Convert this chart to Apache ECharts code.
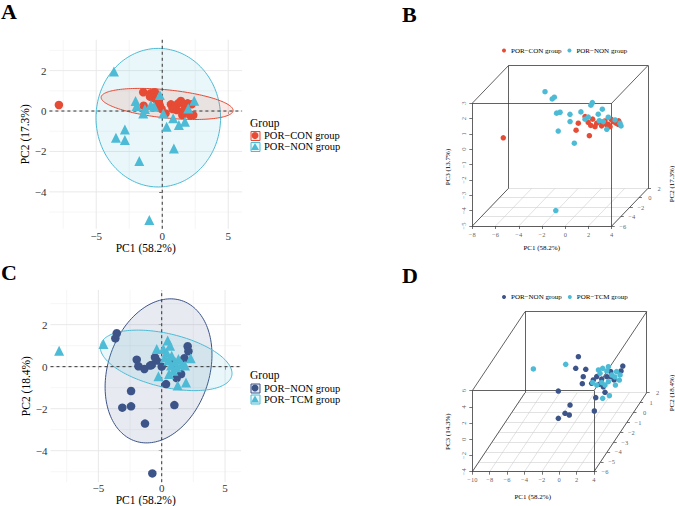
<!DOCTYPE html>
<html><head><meta charset="utf-8">
<script src="https://cdn.jsdelivr.net/npm/echarts@6/dist/echarts.min.js"></script>
<style>html,body{margin:0;padding:0;background:#fff}#c{width:675px;height:506px}</style>
</head><body><div id="c"></div>
<script>
// ---------------- DATA ----------------
// Panel A: PCA (PC1, PC2), POR-CON vs POR-NON
const aGroups = ['POR\u2212CON group', 'POR\u2212NON group'];
const aConPC1 = [-7.83,-1.44,-1.41,-0.86,-0.56,-0.76,-0.93,-0.43,-0.25,-0.18,-0.05,0.25,0.66,0.96,1.21,1.41,1.09,1.52,1.72,1.92,2.22,2.10,2.35,1.59,0.78,-0.30];
const aConPC2 = [0.30,0.93,0.26,0.88,0.93,0.66,0.71,0.55,0.38,0.26,0.10,-0.12,0.33,0.21,0.38,0.50,0.05,-0.20,0.26,0.38,0.33,-0.20,-0.20,0.00,0.10,0.46];
const aNonPC1 = [-3.66,-2.02,-1.94,-1.44,-0.86,-0.61,-0.18,0.83,0.33,1.26,1.72,2.42,1.97,-2.83,-3.51,-2.83,0.88,-1.74,-0.98,0.08,-1.31];
const aNonPC2 = [1.95,0.50,0.25,-0.12,0.30,0.21,0.79,-0.36,-0.78,-0.69,-0.53,0.51,0.13,-0.91,-1.32,-1.44,-1.85,-2.48,-5.40,-0.12,0.10];
// confidence ellipses: [cx, cy, ux, uy, vx, vy]
const aConEllipse = [0.37,0.35,5.0,-0.32,0,0.70];
const aNonEllipse = [-0.30,-0.33,4.72,0,0,3.43];

// Panel C: PCA (PC1, PC2), POR-NON vs POR-TCM
const cGroups = ['POR\u2212NON group', 'POR\u2212TCM group'];
const cNonPC1 = [-3.55,-3.66,-1.97,-1.84,-1.37,-0.92,-0.79,-0.39,0.00,-0.53,2.05,2.11,1.79,1.53,1.18,0.34,-2.42,-3.11,-2.42,1.00,-1.32,-0.74,0.92];
const cNonPC2 = [1.59,1.35,0.33,0.02,-0.11,0.05,0.08,0.29,0.00,0.44,0.97,0.73,0.40,-0.35,-0.54,-0.83,-1.16,-1.95,-1.89,-1.83,-2.71,-5.08,0.13];
const cTcmPC1 = [-8.10,-4.60,0.47,-0.39,0.13,0.66,0.39,0.79,0.53,1.05,1.32,1.58,1.84,2.29,-0.26,0.58,0.92,1.26,1.92,0.26,1.18,0.74];
const cTcmPC2 = [0.76,1.08,1.24,0.84,0.84,1.00,0.68,0.52,0.29,0.24,0.37,0.13,0.05,0.40,-0.46,-0.35,-0.19,-0.90,-0.75,0.44,-0.03,0.05];
const cNonEllipse = [-0.25,-0.20,4.2,0.45,0.4,3.4];
const cTcmEllipse = [0.35,0.30,5.2,-0.62,0,1.3];

// Panel B: 3D PCA
const bConPC1 = [-7.79,-1.57,-1.51,-0.22,-1.00,-0.62,-0.20,0.22,0.52,1.00,1.34,1.59,1.64,1.93,2.29,0.18,0.66,1.03,2.13,-0.42,1.42];
const bConPC2 = [0.30,0.90,0.26,-0.12,0.93,0.66,0.55,0.38,0.33,0.21,0.05,-0.20,0.38,0.26,-0.20,0.10,0.33,0.46,0.33,0.71,0.50];
const bConPC3 = [-1.19,-0.42,-0.68,-0.92,0.00,-0.30,-0.05,-0.26,-0.14,-0.06,-0.23,-0.31,-0.16,-0.22,-0.16,-0.40,-0.42,-0.38,-0.09,-0.51,-0.05];
const bNonPC1 = [-3.66,-2.95,-2.72,-0.09,-0.25,-2.73,-1.82,-2.13,-1.30,-1.88,-2.43,-0.84,-1.05,0.38,0.65,-0.22,-0.72,0.89,1.50,2.17,2.41,2.15,1.05,0.98];
const bNonPC2 = [-1.08,-1.32,-1.44,0.21,0.30,-0.91,-2.48,0.50,0.79,-0.12,-1.32,-1.85,-5.40,0.30,0.51,-0.36,0.21,-0.78,-0.69,0.51,0.13,-0.53,0.79,-0.12];
const bNonPC3 = [2.24,1.84,1.99,1.13,0.94,0.79,1.33,0.28,0.35,0.00,-0.25,-0.88,-4.18,0.35,0.61,0.36,0.05,0.26,-0.33,-0.30,-0.36,0.23,0.00,0.00];
const bTicksPC1 = [-8,-6,-4,-2,0,2,4];
const bTicksPC2 = [-6,-4,-2,0,2];
const bTicksPC3 = [-5,-4,-3,-2,-1,0,1,2,3];

// Panel D: 3D PCA
const dNonPC1 = [-3.55,-2.90,-1.51,-1.70,-1.01,-0.80,-1.25,-2.40,-1.96,-3.17,1.04,0.88,1.35,2.03,2.01,1.08,1.19,-0.27,-0.69,0.24,0.93,0.69,1.46,-1.03,1.05];
const dNonPC2 = [1.59,0.33,0.02,-0.11,-1.16,-5.08,-2.71,-1.95,-1.89,-1.95,-1.83,-1.83,-0.83,0.97,0.73,0.40,-0.35,0.05,0.08,0.13,-0.54,-0.83,0.40,0.29,0.44];
const dNonPC3 = [0.95,1.05,1.30,0.55,0.96,4.84,0.22,-1.73,-2.01,-2.35,0.06,-1.59,-0.50,0.55,0.23,0.55,0.84,0.36,-0.09,-0.03,-0.17,0.49,-0.48,-0.76,-0.12];
const dTcmPC1 = [-8.10,-4.62,-0.49,0.47,1.10,2.15,1.75,-0.49,1.25,-0.74,0.04,1.79,1.13,1.29,2.33,1.07,0.16,1.94,-0.55,0.70];
const dTcmPC2 = [0.76,1.08,1.24,0.84,0.52,0.40,0.13,0.84,-0.19,0.05,-0.35,-0.75,-0.90,1.00,0.05,-0.46,0.24,-0.03,0.68,0.29];
const dTcmPC3 = [0.44,0.63,-0.06,0.62,-0.01,0.14,0.23,-0.19,0.03,-0.38,-0.19,-1.02,-1.16,-0.18,-0.06,-0.05,-0.61,-0.58,0.42,0.76];
const dTicksPC1 = [-10,-8,-6,-4,-2,0,2,4];
const dTicksPC2 = [-6,-5,-4,-3,-2,-1,0,1,2];
const dTicksPC3 = [-4,-2,0,2,4,6];

// 2D tick values
const xTicks2D = [-5,0,5];
const yTicks2D = [-4,-2,0,2];
const xMinor2D = [-7.5,-2.5,2.5];
const yMinor2D = [-5,-3,-1,1,3];

// ---------------- STYLE / LAYOUT ----------------
const SERIF = "'Liberation Serif','DejaVu Serif','Times New Roman',serif";
const RED = '#E64B35', CYAN = '#4DBBD5', NAVY = '#3C5488';
function rgba(hex, a){const n=parseInt(hex.slice(1),16);return 'rgba('+(n>>16)+','+((n>>8)&255)+','+(n&255)+','+a+')';}
const minus = v => String(v).replace('-', '\u2212');
const pairs = (a,b) => a.map((v,i)=>[v,b[i]]);

const series = [];
const grids = [], xAxes = [], yAxes = [];

function add2D(idx, cfg) {
  grids.push(Object.assign({containLabel:false, outerBoundsMode:'none'}, cfg.grid));
  xAxes.push({gridIndex:idx, type:'value', min:cfg.x[0], max:cfg.x[1],
    axisLine:{show:false}, splitLine:{show:false},
    axisTick:{show:true, length:3, customValues:xTicks2D, lineStyle:{color:'#333', width:1}},
    axisLabel:{customValues:xTicks2D, formatter:minus, margin:cfg.xMargin, fontFamily:SERIF, fontSize:11, color:'#333'},
    name:'PC1 (58.2%)', nameLocation:'middle', nameGap:cfg.xGap,
    nameTextStyle:{fontFamily:SERIF, fontSize:11.5, color:'#000'}});
  yAxes.push({gridIndex:idx, type:'value', min:cfg.y[0], max:cfg.y[1],
    axisLine:{show:false}, splitLine:{show:false},
    axisTick:{show:true, length:3, customValues:yTicks2D, lineStyle:{color:'#333', width:1}},
    axisLabel:{customValues:yTicks2D, formatter:minus, margin:3, fontFamily:SERIF, fontSize:11, color:'#333'},
    name:cfg.yName, nameLocation:'middle', nameGap:cfg.yGap, nameRotate:90,
    nameTextStyle:{fontFamily:SERIF, fontSize:11.5, color:'#000'}});
  const lineItems = xMinor2D.map(v=>[0,v,0]).concat(yMinor2D.map(v=>[1,v,0]),
                    xTicks2D.map(v=>[0,v,1]), yTicks2D.map(v=>[1,v,1]));
  const lineRender = (dash, colorMaj, colorMin, wMaj, wMin) => (params, api) => {
    const o = api.value(0), v = api.value(1), maj = api.value(2);
    const p1 = o === 0 ? api.coord([v, cfg.y[0]]) : api.coord([cfg.x[0], v]);
    const p2 = o === 0 ? api.coord([v, cfg.y[1]]) : api.coord([cfg.x[1], v]);
    return {type:'line', shape:{x1:p1[0],y1:p1[1],x2:p2[0],y2:p2[1]},
      style:{stroke: maj ? colorMaj : colorMin, lineWidth: maj ? wMaj : wMin, lineDash: dash}};
  };
  series.push({type:'custom', xAxisIndex:idx, yAxisIndex:idx, silent:true, z:1,
    data: lineItems, renderItem: lineRender(null, '#e6e6e6', '#f0f0f0', 0.9, 0.6)});
  cfg.ellipses.forEach(e => {
    series.push({type:'custom', xAxisIndex:idx, yAxisIndex:idx, silent:true, z:2,
      data:[e.p], renderItem:(params, api) => {
        const p = e.p, pts = [];
        for (let i = 0; i <= 160; i++) {
          const t = 2*Math.PI*i/160;
          pts.push(api.coord([p[0]+p[2]*Math.cos(t)+p[4]*Math.sin(t), p[1]+p[3]*Math.cos(t)+p[5]*Math.sin(t)]));
        }
        return {type:'polygon', shape:{points:pts}, style:{fill:rgba(e.color,0.12), stroke:e.color, lineWidth:1}};
      }});
  });
  series.push({type:'custom', xAxisIndex:idx, yAxisIndex:idx, silent:true, z:3,
    data:[[0,0,1],[1,0,1]], renderItem: lineRender([3,3], '#333', '#333', 1, 1)});
  cfg.points.forEach(s => {
    series.push({type:'scatter', name:s.name, xAxisIndex:idx, yAxisIndex:idx, z:4,
      symbol:s.symbol, symbolSize:s.size, itemStyle:{color:s.color, opacity:1},
      data: pairs(s.x, s.y)});
  });
}

function add3D(idx, c) {
  const [x0,x1] = c.x, [y0,y1] = c.y, [z0,z1] = c.z;
  const P = (a,b,d) => [a + (b - y0)*c.kx, d + (b - y0)*c.kz];
  const X1 = x1 + (y1 - y0)*c.kx, Z1 = z1 + (y1 - y0)*c.kz;
  grids.push(Object.assign({containLabel:false, outerBoundsMode:'none'}, c.grid));
  xAxes.push({gridIndex:idx, type:'value', min:x0, max:X1, show:false});
  yAxes.push({gridIndex:idx, type:'value', min:z0, max:Z1, show:false});
  const ppx = c.grid.width/(X1 - x0), ppz = c.grid.height/(Z1 - z0);
  const shift = (p, dx, dy) => [p[0] + dx/ppx, p[1] - dy/ppz];   // pixel shift -> data units
  const box = [
    [P(x0,y0,z0),P(x1,y0,z0)],[P(x1,y0,z0),P(x1,y0,z1)],[P(x1,y0,z1),P(x0,y0,z1)],[P(x0,y0,z1),P(x0,y0,z0)],
    [P(x0,y1,z1),P(x1,y1,z1)],[P(x0,y1,z0),P(x0,y1,z1)],[P(x1,y1,z0),P(x1,y1,z1)],
    [P(x0,y0,z1),P(x0,y1,z1)],[P(x1,y0,z1),P(x1,y1,z1)],
    [P(x0,y0,z0),P(x0,y1,z0)],[P(x1,y0,z0),P(x1,y1,z0)]
  ];
  const floor = c.xt.map(v=>[P(v,y0,z0),P(v,y1,z0)]).concat(c.yt.map(v=>[P(x0,v,z0),P(x1,v,z0)]));
  const tks = c.xt.map(v=>{const p=P(v,y0,z0);return [p,shift(p,0,3)];})
    .concat(c.zt.map(v=>{const p=P(x0,y0,v);return [p,shift(p,-3,0)];}))
    .concat(c.yt.map(v=>{const p=P(x1,v,z0);return [p,shift(p,3,0)];}));
  const linesS = (segs, color, w, z) => ({type:'lines', coordinateSystem:'cartesian2d', xAxisIndex:idx, yAxisIndex:idx,
    silent:true, z, polyline:false, effect:{show:false}, clip:false,
    lineStyle:{color, width:w, opacity:1, curveness:0}, data: segs.map(s=>({coords:s}))});
  series.push(linesS(floor, '#cfcfcf', 0.6, 1));
  series.push(linesS(box, '#3a3a3a', 0.8, 2));
  series.push(linesS(tks, '#3a3a3a', 0.7, 2));
  const lab = (items, rotate) => ({type:'scatter', xAxisIndex:idx, yAxisIndex:idx, silent:true, z:5, clip:false,
    symbolSize:1, itemStyle:{color:'rgba(0,0,0,0)'},
    data: items, label:{show:true, position:'inside', rotate, formatter:'{b}',
      fontFamily:SERIF, fontSize:6.5, color:'#333'}, labelLayout:{hideOverlap:false}});
  series.push(lab(c.xt.map(v=>({value:shift(P(v,y0,z0),0,8), name:minus(v)})), 0));
  series.push(lab(c.zt.map(v=>({value:shift(P(x0,y0,v),-9,0), name:minus(v)})), 90));
  series.push(lab(c.yt.map(v=>({value:shift(P(x1,v,z0),11,0), name:minus(v)})), 0));
  c.points.forEach(s => {
    series.push({type:'scatter', name:s.name, xAxisIndex:idx, yAxisIndex:idx, z:4,
      symbol:'circle', symbolSize:5.5, itemStyle:{color:s.color, opacity:1},
      data: s.p1.map((v,i)=>P(v, s.p2[i], s.p3[i]))});
  });
}

add2D(0, {grid:{left:49.4, top:39.7, width:192.7, height:189.1}, x:[-8.55,6.05], y:[-5.83,3.53],
  yName:'PC2 (17.3%)', xGap:10, yGap:9, xMargin:1.5,
  ellipses:[{p:aNonEllipse, color:CYAN},{p:aConEllipse, color:RED}],
  points:[{name:aGroups[0], x:aConPC1, y:aConPC2, color:RED, symbol:'circle', size:8.5},
          {name:aGroups[1], x:aNonPC1, y:aNonPC2, color:CYAN, symbol:'triangle', size:10}]});
add2D(1, {grid:{left:50.5, top:290, width:190.5, height:192.2}, x:[-8.78,6.26], y:[-5.5,3.65],
  yName:'PC2 (18.4%)', xGap:3, yGap:8, xMargin:0,
  ellipses:[{p:cNonEllipse, color:NAVY},{p:cTcmEllipse, color:CYAN}],
  points:[{name:cGroups[0], x:cNonPC1, y:cNonPC2, color:NAVY, symbol:'circle', size:8.5},
          {name:cGroups[1], x:cTcmPC1, y:cTcmPC2, color:CYAN, symbol:'triangle', size:10}]});
add3D(2, {grid:{left:472.3, top:65.5, width:175.7, height:160.5}, x:[-8,4], y:[-6,2], z:[-5,3], kx:0.39, kz:0.307,
  xt:bTicksPC1, yt:bTicksPC2, zt:bTicksPC3,
  points:[{name:aGroups[0], p1:bConPC1, p2:bConPC2, p3:bConPC3, color:RED},
          {name:aGroups[1], p1:bNonPC1, p2:bNonPC2, p3:bNonPC3, color:CYAN}]});
add3D(3, {grid:{left:472.3, top:311.7, width:174.4, height:160}, x:[-10,4], y:[-6,2], z:[-4,6], kx:0.758, kz:1.219,
  xt:dTicksPC1, yt:dTicksPC2, zt:dTicksPC3,
  points:[{name:cGroups[0], p1:dNonPC1, p2:dNonPC2, p3:dNonPC3, color:NAVY},
          {name:cGroups[1], p1:dTcmPC1, p2:dTcmPC2, p3:dTcmPC3, color:CYAN}]});

const letter = (t, l, tp) => ({text:t, left:l, top:tp, padding:0,
  textStyle:{fontFamily:SERIF, fontSize:22, fontWeight:'bold', color:'#000'}});
const grpTitle = (tp) => ({text:'Group', left:250, top:tp, padding:0,
  textStyle:{fontFamily:SERIF, fontSize:11.5, fontWeight:'normal', color:'#000'}});
const legend2D = (tp, items) => ({left:251, top:tp, orient:'vertical', itemWidth:8, itemHeight:7, itemGap:0,
  padding:0, selectedMode:false, textStyle:{fontFamily:SERIF, fontSize:10.5, color:'#000', lineHeight:11},
  data: items.map(it=>({name:it.name, icon:it.icon, itemStyle:{color:it.color, borderWidth:0}}))});
const legend3D = (tp, items) => ({left:502, top:tp, orient:'horizontal', itemWidth:4, itemHeight:4, itemGap:6,
  padding:0, selectedMode:false, textStyle:{fontFamily:SERIF, fontSize:7, color:'#000'},
  data: items.map(it=>({name:it.name, icon:'circle', itemStyle:{color:it.color, borderWidth:0}}))});
const keyBox = (y, color) => ({type:'rect', left:250.5, top:y, z:-1,
  shape:{width:9, height:9}, style:{fill:rgba(color,0.12), stroke:color, lineWidth:1}});
const txt = (s, x, y, rot) => ({type:'text', x, y, rotation:rot, z:10,
  style:{text:s, fontFamily:SERIF, fontSize:7, fill:'#000', align:'center', verticalAlign:'middle',
         textAlign:'center', textVerticalAlign:'middle'}});

const option = {
  animation:false,
  backgroundColor:'#fff',
  title:[letter('A',1,0), letter('B',402,3), letter('C',1,261), letter('D',402,264),
         grpTitle(117), grpTitle(369)],
  legend:[
    legend2D(130, [{name:aGroups[0], icon:'circle', color:RED},{name:aGroups[1], icon:'triangle', color:CYAN}]),
    legend2D(382.5, [{name:cGroups[0], icon:'circle', color:NAVY},{name:cGroups[1], icon:'triangle', color:CYAN}]),
    legend3D(47, [{name:aGroups[0], color:RED},{name:aGroups[1], color:CYAN}]),
    legend3D(293.5, [{name:cGroups[0], color:NAVY},{name:cGroups[1], color:CYAN}])
  ],
  grid:grids, xAxis:xAxes, yAxis:yAxes,
  graphic:[
    keyBox(131, RED), keyBox(142, CYAN), keyBox(383.5, NAVY), keyBox(394.5, CYAN),
    txt('PC1 (58.2%)', 541.7, 248, 0), txt('PC3 (13.7%)', 448.3, 167, Math.PI/2), txt('PC2 (17.3%)', 671.5, 184, Math.PI/2),
    txt('PC1 (58.2%)', 532.7, 496.7, 0), txt('PC3 (14.3%)', 448.3, 431.7, Math.PI/2), txt('PC2 (18.4%)', 671.5, 393, Math.PI/2)
  ],
  series
};
const chart = echarts.init(document.getElementById('c'), null, {renderer:'svg', width:675, height:506});
chart.setOption(option);
</script></body></html>
